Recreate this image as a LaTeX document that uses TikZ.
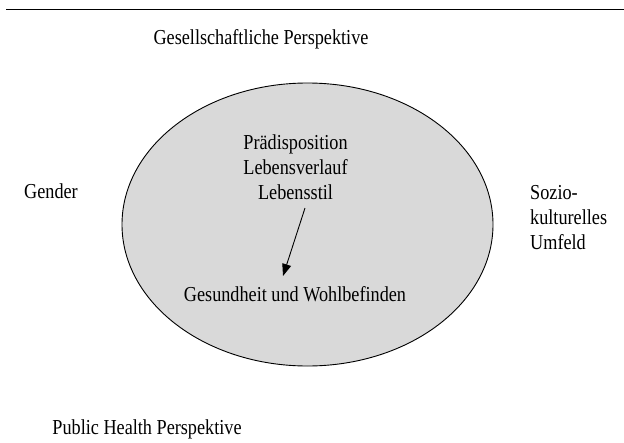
\documentclass[tikz,border=0pt]{standalone}
\usepackage{fontspec}
\setmainfont{Liberation Serif}[FakeStretch=0.855]
\usetikzlibrary{shapes.geometric,arrows.meta}
\tikzset{
  lbl/.style={inner sep=0pt,anchor=base,font=\fontsize{21.3}{25}\selectfont},
  oval/.style={ellipse,draw=black,line width=0.9pt,fill=black!15,inner sep=0pt,
               minimum width=371pt,minimum height=283pt},
  effect/.style={line width=0.9pt,-{Triangle[length=12pt,width=9pt]}}
}

\begin{document}
\begin{tikzpicture}[x=1pt,y=-1pt]
\useasboundingbox (0,0) rectangle (624,442);

% rule on top
\coordinate (ruleL) at (6,9.5);
\coordinate (ruleR) at (624,9.5);
\draw[line width=1.2pt] (ruleL) -- (ruleR);

\node[oval] (oval) at (307.5,224.5) {};

\node[lbl] (soc) at (261,44) {Gesellschaftliche Perspektive};
\node[lbl] (pub) at (147,434) {Public Health Perspektive};
\node[lbl,anchor=base west] (gen) at (24,198) {Gender};
\foreach \txt [count=\i] in {Sozio-,kulturelles,Umfeld}
  \node[lbl,anchor=base west] (sk\i) at (530,174+25*\i) {\txt};

% inside the oval
\foreach \txt [count=\i] in {Prädisposition,Lebensverlauf,Lebensstil}
  \node[lbl] (in\i) at (295.5,124+25*\i) {\txt};
\node[lbl] (health) at (295,301) {Gesundheit und Wohlbefinden};

\coordinate (arrS) at (305,208);
\coordinate (arrE) at (283,276);
\draw[effect] (arrS) -- (arrE);
\end{tikzpicture}
\end{document}
